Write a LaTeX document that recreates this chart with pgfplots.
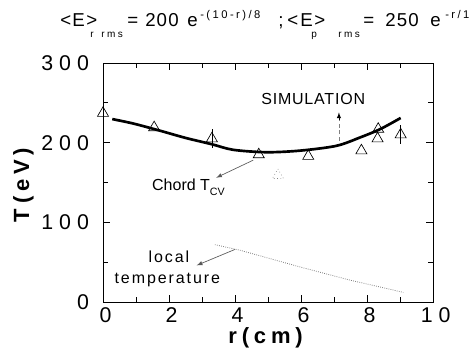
\documentclass[border=0pt]{standalone}
\usepackage{fontspec}
\setmainfont{Liberation Sans}
\usepackage{pgfplots}
\pgfplotsset{compat=1.18}
\begin{document}
\begin{tikzpicture}[x=0.75pt,y=0.75pt]
\useasboundingbox (0,0) rectangle (471,354);
\begin{axis}[
  at={(77.25pt,39pt)}, anchor=south west,
  scale only axis, width=247.5pt, height=179.25pt,
  xmin=0, xmax=10, ymin=0, ymax=300,
  xtick={0,2,...,10}, ytick={0,100,200,300},
  minor xtick={1,3,...,9}, minor ytick={50,150,250},
  tick align=inside, major tick length=5pt, minor tick length=3.5pt,
  tick style={black, line width=0.6pt},
  axis line style={line width=0.7pt},
  /pgf/number format/assume math mode=true,
  tick label style={font=\fontsize{16}{16}\selectfont\addfontfeature{LetterSpace=28}},
  xticklabel style={yshift=-1pt, xshift=2pt},
  yticklabel style={xshift=-7pt},
  xlabel={\textbf{\addfontfeature{LetterSpace=22}r(cm)}},
  ylabel={\textbf{\addfontfeature{LetterSpace=22}T(eV)}},
  label style={font=\fontsize{16.5}{16.5}\selectfont},
  xlabel style={at={(axis description cs:0.5,0)}, anchor=center, yshift=-27pt},
  ylabel style={yshift=-1pt},
  clip=false,
]
% simulation curve
\addplot[black, line width=2pt, smooth] coordinates {
(0.28,229.6)(0.92,224)(1.73,215)(2.5,206)(3.3,198)(3.95,191)(4.96,188)(5.97,190)(7.07,196)(7.8,206.7)(8.4,217)(9.02,231)};
% chord triangles
\addplot[only marks, mark=triangle, mark size=4.8pt, mark options={black, line width=0.5pt}] coordinates {
(0,237)(1.55,219)(4.72,185)(6.22,183)(7.83,190)(8.32,205)(8.34,217)};
\addplot[only marks, mark=triangle, mark size=4.8pt, mark options={black, line width=0.5pt},
  error bars/.cd, y dir=both, y explicit, error bar style={black, line width=0.6pt}, error mark=none] coordinates {
(3.3,205) +- (0,12)
(9.02,210) +- (0,12)};
\addplot[only marks, mark=triangle, mark size=4.8pt, mark options={gray, dotted, line width=0.5pt}] coordinates {(5.3,159)};
% local temperature
\addplot[gray, densely dotted, line width=0.6pt] coordinates {
(3.39,72)(4.15,65)(5.97,44)(7.48,27.5)(8.8,15)(9.1,12)};
% annotations
\node[font=\fontsize{12}{12}\selectfont\addfontfeature{LetterSpace=5}] at (axis cs:6.37,255) {SIMULATION};
\draw[densely dashed, gray, line width=0.5pt] (axis cs:7.15,202) -- (axis cs:7.15,232);
\draw[-latex, black, line width=0.5pt] (axis cs:7.15,228) -- (axis cs:7.15,238);
\node[font=\fontsize{12}{12}\selectfont] at (axis cs:2.6,144) {Chord T\textsubscript{\raisebox{-0.5ex}{CV}}};
\draw[-latex, gray!70!black, line width=0.5pt] (axis cs:4.55,178) -- (axis cs:3.43,156);
\node[font=\fontsize{12}{12}\selectfont\addfontfeature{LetterSpace=12}, anchor=base] at (axis cs:2.0,49) {local};
\node[font=\fontsize{12}{12}\selectfont\addfontfeature{LetterSpace=12}, anchor=base] at (axis cs:1.95,23) {temperature};
\draw[-latex, gray!70!black, line width=0.5pt] (axis cs:4.0,66) -- (axis cs:2.84,46);
\end{axis}
% title, piece by piece
\begin{scope}[every node/.style={anchor=base west, inner sep=0pt}]
\tikzset{mn/.style={font=\fontsize{14}{14}\selectfont\addfontfeature{LetterSpace=6}},
         sb/.style={font=\fontsize{7.5}{8}\selectfont\addfontfeature{LetterSpace=25}},
         sp/.style={font=\fontsize{8.4}{9}\selectfont\addfontfeature{LetterSpace=22}}}
\node[mn] at (60,327) {<};
\node[mn] at (72,327) {E};
\node[mn] at (86,327) {>};
\node[sb] at (90,316) {r};
\node[sb] at (101,316) {rms};
\node[mn] at (127,327) {=};
\node[mn] at (145,327) {200};
\node[mn] at (187,327) {e};
\node[sp] at (200,335) {-(10-r)/8};
\node[mn] at (278,327) {;};
\node[mn] at (287,327) {<};
\node[mn] at (300,327) {E};
\node[mn] at (314,327) {>};
\node[sb] at (311,316) {p};
\node[sb] at (338,316) {rms};
\node[mn] at (363,327) {=};
\node[mn] at (385,327) {250};
\node[mn] at (430,327) {e};
\node[sp] at (445,335) {-r/10};
\end{scope}
\end{tikzpicture}
\end{document}
